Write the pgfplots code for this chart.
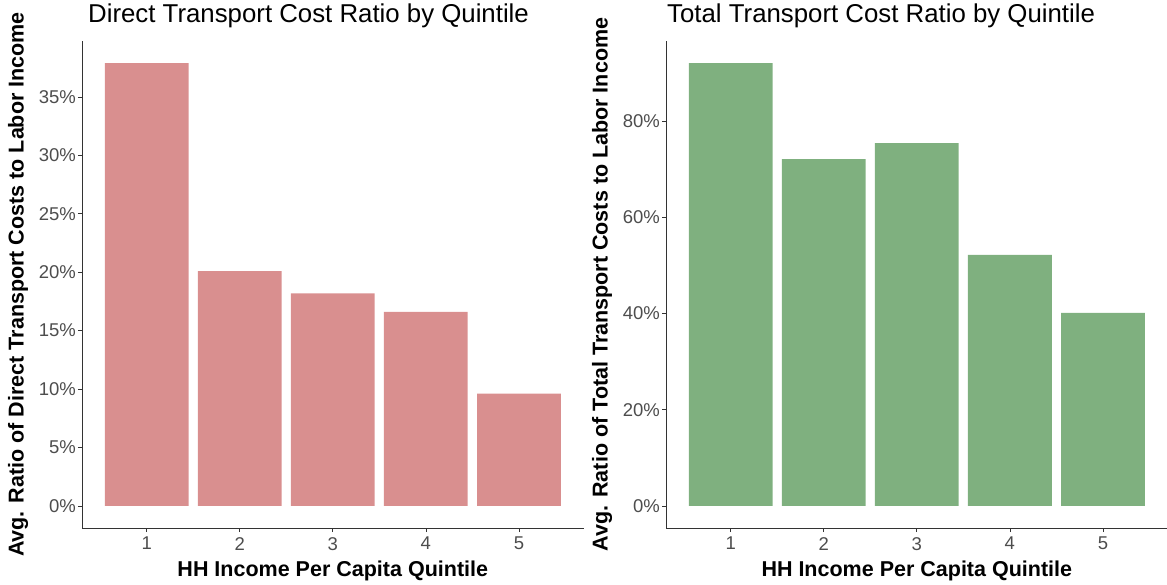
\documentclass[border=0pt]{standalone}
\usepackage{pgfplots}
\pgfplotsset{compat=1.18}
\usepackage{fontspec}
\setmainfont{Liberation Sans}
\definecolor{barred}{RGB}{217,143,143}
\definecolor{bargreen}{RGB}{127,176,127}
\definecolor{ticklab}{RGB}{77,77,77}
\definecolor{axline}{RGB}{51,51,51}
\pgfplotsset{
  panel/.style={
    scale only axis,
    width=501.6pt, height=487pt,
    anchor=south west,
    xmin=0.305, xmax=5.695,
    xtick={1,2,3,4,5},
    axis lines*=left,
    axis line style={axline, line width=0.9pt},
    tick align=outside,
    major tick length=4pt,
    tick style={axline, line width=0.7pt},
    tick label style={font=\fontsize{18.5}{18.5}\selectfont, text=ticklab},
    yticklabel style={inner xsep=2pt},
    xticklabel style={inner ysep=5pt},
    /pgf/number format/assume math mode=true,
    yticklabel={\pgfmathprintnumber{\tick}\%},
    ybar, bar width=0.9, bar shift=0pt,
    clip=false,
    title style={font=\fontsize{25.8}{25.8}\selectfont, anchor=base west, at={(axis description cs:0,1)}, yshift=12.5pt, inner sep=0pt},
    xlabel style={font=\fontsize{21.5}{21.5}\selectfont\bfseries, at={(axis description cs:0.5,-0.1006)}, anchor=base, inner sep=0pt},
    ylabel style={font=\fontsize{21.5}{21.5}\selectfont\bfseries, anchor=center, inner sep=0pt},
  }
}
\begin{document}
\begin{tikzpicture}[x=1pt,y=1pt]
\path[use as bounding box] (0,0) rectangle (1167,584);
\begin{axis}[panel, at={(82pt,56pt)},
  ymin=-1.895, ymax=39.795,
  ytick={0,5,10,15,20,25,30,35},
  title={Direct Transport Cost Ratio by Quintile},
  title style={xshift=6pt},
  xlabel={HH Income Per Capita Quintile},
  ylabel={Avg. Ratio of Direct Transport Costs to Labor Income},
  ylabel style={at={(axis description cs:-0.1276,0.5)}},
]
\addplot[fill=barred, draw=none] coordinates {(1,37.9) (2,20.1) (3,18.2) (4,16.6) (5,9.6)};
\end{axis}
\begin{axis}[panel, at={(666pt,56pt)},
  ymin=-4.6, ymax=96.65,
  ytick={0,20,40,60,80},
  title={Total Transport Cost Ratio by Quintile},
  title style={xshift=1pt},
  xlabel={HH Income Per Capita Quintile},
  ylabel={Avg. Ratio of Total Transport Costs to Labor Income},
  ylabel style={at={(axis description cs:-0.1276,0.5)}},
]
\addplot[fill=bargreen, draw=none] coordinates {(1,92.05) (2,72.1) (3,75.4) (4,52.2) (5,40.1)};
\end{axis}
\end{tikzpicture}
\end{document}
